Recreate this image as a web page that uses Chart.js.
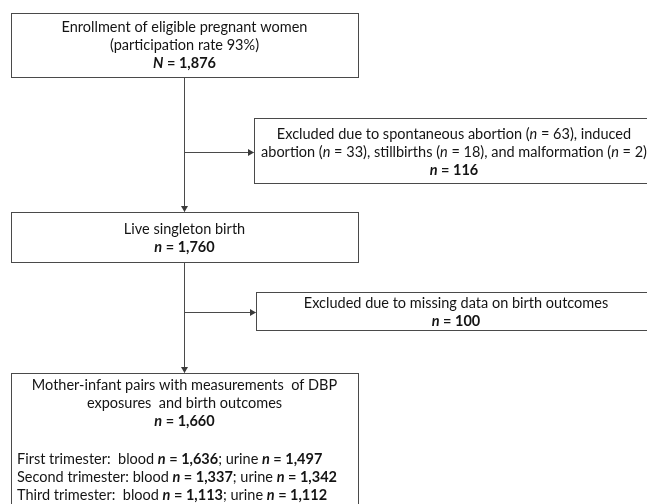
<!DOCTYPE html>
<html>
<head>
<meta charset="utf-8">
<script src="https://cdn.jsdelivr.net/npm/chart.js@4"></script>
<style>
  html, body { margin: 0; padding: 0; background: #fff; }
  #wrap { width: 647px; height: 504px; position: relative; }
</style>
</head>
<body>
<div id="wrap"><canvas id="flowChart"></canvas></div>
<script>
// Flow of participants
const stageLabels = ['Enrollment of eligible pregnant women', 'Live singleton birth', 'Mother-infant pairs with measurements  of DBP'];
const participationRate = 93;
const stageN = [1876, 1760, 1660];

const exclusionReasons = ['spontaneous abortion', 'induced abortion', 'stillbirths', 'malformation'];
const exclusionCounts = [63, 33, 18, 2];
const excludedTotals = [116, 100];

const trimesters = ['First', 'Second', 'Third'];
const bloodN = [1636, 1337, 1113];
const urineN = [1497, 1342, 1112];

// box geometry, in axis units (0..647 x, 0..504 y going down)
const boxes = {
  enroll:  { x0: 11,  x1: 358, y0: 13,  y1: 77,  lines: [27, 45, 63] },
  excl1:   { x0: 254, x1: 654, y0: 118, y1: 183, lines: [134, 152, 170] },
  live:    { x0: 11,  x1: 358, y0: 212, y1: 262, lines: [229, 247] },
  excl2:   { x0: 256, x1: 656, y0: 292, y1: 330, lines: [303, 321] },
  pairs:   { x0: 11,  x1: 358, y0: 373, y1: 520, lines: [385, 403, 421, 459, 477, 495] }
};
const spineX = 184;
const branchY = [152, 312];

const FONT = 'Lato, "Open Sans", sans-serif';
const FSIZE = 14.5;
const fmt = v => v.toLocaleString('en-US');

function seg(t, b, i) { return { t: t, b: !!b, i: !!i }; }
function nEq(sym, v) { return [seg(sym, 1, 1), seg(' = ' + fmt(v), 1)]; }

function drawRich(ctx, segs, x, y, align) {
  let w = 0;
  segs.forEach(s => {
    ctx.font = (s.i ? 'italic ' : '') + (s.b ? 'bold ' : '') + FSIZE + 'px ' + FONT;
    s.w = ctx.measureText(s.t).width;
    w += s.w;
  });
  let cx = align === 'left' ? x : x - w / 2;
  segs.forEach(s => {
    ctx.font = (s.i ? 'italic ' : '') + (s.b ? 'bold ' : '') + FSIZE + 'px ' + FONT;
    ctx.fillText(s.t, cx, y);
    cx += s.w;
  });
}

function exclusionLines() {
  const parts = exclusionReasons.map((r, k) => [r, exclusionCounts[k]]);
  return [
    [seg('Excluded due to ' + parts[0][0] + ' ('), seg('n', 0, 1), seg(' = ' + parts[0][1] + '), induced')],
    [seg('abortion ('), seg('n', 0, 1), seg(' = ' + parts[1][1] + '), ' + parts[2][0] + ' ('), seg('n', 0, 1),
     seg(' = ' + parts[2][1] + '), and ' + parts[3][0] + ' ('), seg('n', 0, 1), seg(' = ' + parts[3][1] + ')')],
    nEq('n', excludedTotals[0])
  ];
}

const flowPlugin = {
  id: 'flow',
  afterDraw(chart) {
    const ctx = chart.ctx;
    const xs = chart.scales.x, ys = chart.scales.y;
    const px = v => xs.getPixelForValue(v);
    const py = v => ys.getPixelForValue(v);

    ctx.save();
    ctx.strokeStyle = '#4a4a4a';
    ctx.fillStyle = '#3a3a3a';
    ctx.lineWidth = 1;

    function line(x0, y0, x1, y1) {
      ctx.beginPath();
      ctx.moveTo(Math.round(px(x0)) + 0.5, Math.round(py(y0)) + 0.5);
      ctx.lineTo(Math.round(px(x1)) + 0.5, Math.round(py(y1)) + 0.5);
      ctx.stroke();
    }
    function arrowDown(x, y) {
      const X = Math.round(px(x)) + 0.5, Y = py(y);
      ctx.beginPath();
      ctx.moveTo(X - 3.5, Y - 6); ctx.lineTo(X + 3.5, Y - 6); ctx.lineTo(X, Y); ctx.closePath(); ctx.fill();
    }
    function arrowRight(x, y) {
      const X = px(x), Y = Math.round(py(y)) + 0.5;
      ctx.beginPath();
      ctx.moveTo(X - 6, Y - 3.5); ctx.lineTo(X - 6, Y + 3.5); ctx.lineTo(X, Y); ctx.closePath(); ctx.fill();
    }
    function rect(b) {
      const x0 = Math.round(px(b.x0)) + 0.5, y0 = Math.round(py(b.y0)) + 0.5;
      const x1 = Math.round(px(b.x1)) + 0.5, y1 = Math.round(py(b.y1)) + 0.5;
      ctx.strokeRect(x0, y0, x1 - x0, y1 - y0);
    }

    // connectors
    line(spineX, boxes.enroll.y1, spineX, boxes.live.y0 - 1);
    arrowDown(spineX, boxes.live.y0);
    line(spineX, branchY[0], boxes.excl1.x0 - 1, branchY[0]);
    arrowRight(boxes.excl1.x0, branchY[0]);
    line(spineX, boxes.live.y1, spineX, boxes.pairs.y0 - 1);
    arrowDown(spineX, boxes.pairs.y0);
    line(spineX, branchY[1], boxes.excl2.x0 - 1, branchY[1]);
    arrowRight(boxes.excl2.x0, branchY[1]);

    Object.values(boxes).forEach(rect);

    // texts
    ctx.fillStyle = '#141414';
    ctx.textBaseline = 'middle';
    ctx.textAlign = 'left';
    const cMain = px((boxes.enroll.x0 + boxes.enroll.x1) / 2);
    const cExcl1 = px((boxes.excl1.x0 + boxes.excl1.x1) / 2);
    const cExcl2 = px((boxes.excl2.x0 + boxes.excl2.x1) / 2);

    const b = boxes;
    drawRich(ctx, [seg(stageLabels[0])], cMain, py(b.enroll.lines[0]));
    drawRich(ctx, [seg('(participation rate ' + participationRate + '%)')], cMain, py(b.enroll.lines[1]));
    drawRich(ctx, nEq('N', stageN[0]), cMain, py(b.enroll.lines[2]));

    exclusionLines().forEach((l, k) => drawRich(ctx, l, cExcl1, py(b.excl1.lines[k])));

    drawRich(ctx, [seg(stageLabels[1])], cMain, py(b.live.lines[0]));
    drawRich(ctx, nEq('n', stageN[1]), cMain, py(b.live.lines[1]));

    drawRich(ctx, [seg('Excluded due to missing data on birth outcomes')], cExcl2, py(b.excl2.lines[0]));
    drawRich(ctx, nEq('n', excludedTotals[1]), cExcl2, py(b.excl2.lines[1]));

    drawRich(ctx, [seg(stageLabels[2])], cMain, py(b.pairs.lines[0]));
    drawRich(ctx, [seg('exposures  and birth outcomes')], cMain, py(b.pairs.lines[1]));
    drawRich(ctx, nEq('n', stageN[2]), cMain, py(b.pairs.lines[2]));
    const left = px(b.pairs.x0 + 6);
    trimesters.forEach((t, k) => {
      const gap = t === 'Second' ? ' ' : '  ';
      drawRich(ctx, [seg(t + ' trimester:' + gap + 'blood ')].concat(nEq('n', bloodN[k]), [seg('; urine ')], nEq('n', urineN[k])),
        left, py(b.pairs.lines[3 + k]), 'left');
    });
    ctx.restore();
  }
};

new Chart(document.getElementById('flowChart').getContext('2d'), {
  type: 'scatter',
  data: { datasets: [{ data: [], pointRadius: 0 }] },
  options: {
    responsive: true,
    maintainAspectRatio: false,
    animation: false,
    layout: { padding: 0 },
    plugins: { legend: { display: false }, tooltip: { enabled: false } },
    scales: {
      x: { type: 'linear', min: 0, max: 647, display: false },
      y: { type: 'linear', min: 0, max: 504, reverse: true, display: false }
    }
  },
  plugins: [flowPlugin]
});
</script>
</body>
</html>
